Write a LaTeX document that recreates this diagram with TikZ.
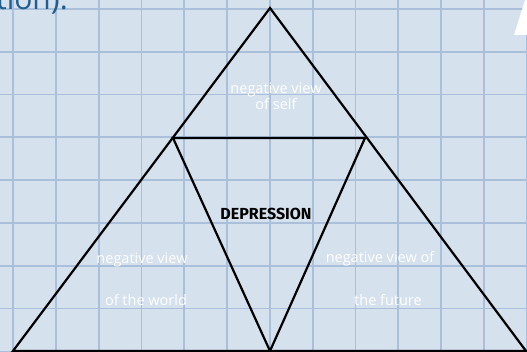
\documentclass[tikz,border=0pt]{standalone}
\usepackage{fontspec}
\setmainfont{Open Sans}
\newfontfamily\deprfont{Fira Sans}
\definecolor{bgblue}{HTML}{D6E1EE}
\definecolor{gridblue}{HTML}{A9BFDA}
\definecolor{inkblue}{HTML}{1F5E8E}
\tikzset{
  edge/.style={line width=2.2pt, black, line join=miter},
  whitelabel/.style={text=white, font=\fontsize{14.5}{16}\selectfont, inner sep=0pt, align=center},
  centrelabel/.style={text=black, font=\deprfont\bfseries\fontsize{16}{18}\selectfont, inner sep=0pt}
}
\begin{document}
\begin{tikzpicture}[x=1pt,y=-1pt]
\useasboundingbox (0,0) rectangle (527,352);
\clip (0,0) rectangle (527,352);
\fill[bgblue] (0,0) rectangle (527,352);
% grid
\foreach \i in {0,...,12} {
  \draw[gridblue, line width=1.8pt] ({13+42.8*\i},0) -- ({13+42.8*\i},352);
}
\foreach \j in {0,...,8} {
  \draw[gridblue, line width=1.8pt] (0,{9+42.8*\j}) -- (527,{9+42.8*\j});
}
% partial text top-left
\node[anchor=base west, text=inkblue, font=\fontsize{30}{30}\selectfont, inner sep=0pt] (cut) at (-4,10) {tion):};
% partial white shape top-right
\fill[white] (514,35) -- (527,35) -- (527,0) -- (525,0) -- cycle;
% triangle corners
\coordinate (apex) at (270,8);
\coordinate (bl) at (13,351);
\coordinate (br) at (526,351);
\coordinate (il) at (173,138);
\coordinate (ir) at (365,138);
\coordinate (ib) at (270,351);
\draw[edge] (apex) -- (bl) -- (br) -- cycle;
\draw[edge] (il) -- (ir) -- (ib) -- cycle;
% labels
\node[whitelabel] (self) at (276,96) {negative view\\of self};
\node[whitelabel] (world1) at (142,260) {negative view};
\node[whitelabel] (world2) at (146,300) {of the world};
\node[whitelabel] (fut1) at (380,259) {negative view of};
\node[whitelabel] (fut2) at (388,300) {the future};
\node[centrelabel] (dep) at (266,214) {DEPRESSION};
\end{tikzpicture}
\end{document}
